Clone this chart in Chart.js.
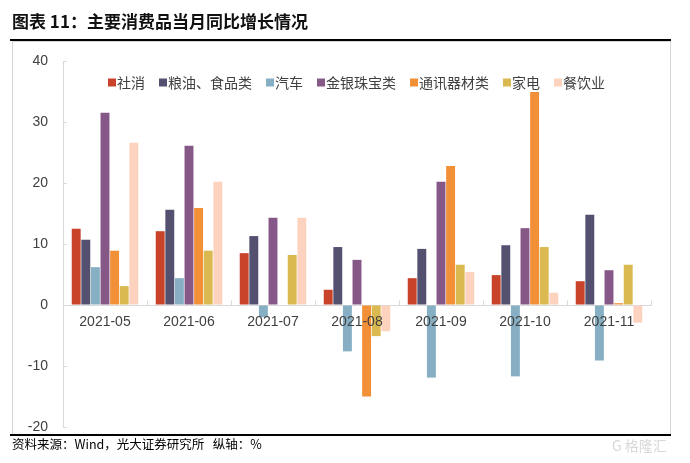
<!DOCTYPE html>
<html>
<head>
<meta charset="utf-8">
<script src="https://cdn.jsdelivr.net/npm/chart.js@4/dist/chart.umd.min.js"></script>
<style>
  html, body { margin: 0; padding: 0; background: #fff; }
  #wrap { position: relative; width: 690px; height: 463px; overflow: hidden; }
  #title { position: absolute; left: 12px; top: 10px; line-height: 22px; font-family: "Noto Sans CJK SC", sans-serif; font-weight: bold; font-size: 17px; color: #111; white-space: pre; }
  #topline { position: absolute; left: 10px; top: 39px; width: 661px; height: 2px; background: #000; }
  #frame { position: absolute; left: 12px; top: 41px; width: 657px; height: 393px; border: 1px solid #d6d6d6; border-bottom: none; }
  #bottomline { position: absolute; left: 10px; top: 434px; width: 661px; height: 1.5px; background: #000; }
  #source { position: absolute; left: 12px; top: 435px; line-height: 17px; font-family: "Noto Sans CJK SC", sans-serif; font-size: 12.5px; color: #000; white-space: pre; }
  #wm { position: absolute; left: 612px; top: 436px; line-height: 18px; font-family: "Noto Sans CJK SC", sans-serif; font-size: 14px; color: #d8d8d8; white-space: pre; }
  #chartbox { position: absolute; left: 0; top: 0; width: 690px; height: 463px; }
</style>
</head>
<body>
<div id="wrap">
  <div id="frame"></div>
  <div id="chartbox"><canvas id="c" width="690" height="463"></canvas></div>
  <div id="title">图表 11：主要消费品当月同比增长情况</div>
  <div id="topline"></div>
  <div id="bottomline"></div>
  <div id="source">资料来源：Wind，光大证券研究所   纵轴：%</div>
  <div id="wm">G 格隆汇</div>
</div>
<script>
const categories = ['2021-05', '2021-06', '2021-07', '2021-08', '2021-09', '2021-10', '2021-11'];
const seriesNames = ['社消', '粮油、食品类', '汽车', '金银珠宝类', '通讯器材类', '家电', '餐饮业'];
const sheXiao  = [12.5, 12.1, 8.5, 2.5, 4.4, 4.9, 3.9];
const liangYou = [10.7, 15.6, 11.3, 9.5, 9.2, 9.8, 14.8];
const qiChe    = [6.2, 4.4, -2.0, -7.6, -11.9, -11.7, -9.1];
const jinYin   = [31.5, 26.1, 14.3, 7.4, 20.2, 12.6, 5.7];
const tongXun  = [8.9, 15.9, null, -15.0, 22.8, 34.9, 0.3];
const jiaDian  = [3.1, 8.9, 8.2, -5.1, 6.6, 9.5, 6.6];
const canYin   = [26.6, 20.2, 14.3, -4.3, 5.4, 2.0, -2.9];
const yTicks = [-20, -10, 0, 10, 20, 30, 40];

const colors = ['#C8432A', '#545070', '#86AFC3', '#855888', '#F29038', '#D9B950', '#FDD3C0'];
const values = [sheXiao, liangYou, qiChe, jinYin, tongXun, jiaDian, canYin];

const AXIS_COLOR = '#d9d9d9';
const TEXT_COLOR = '#404040';

const innerTicks = {
  id: 'innerTicks',
  afterDraw(chart) {
    const ctx = chart.ctx;
    const x = chart.scales.x, y = chart.scales.y;
    ctx.save();
    ctx.strokeStyle = AXIS_COLOR;
    ctx.lineWidth = 1;
    y.ticks.forEach(t => {
      const py = Math.round(y.getPixelForValue(t.value)) + 0.5;
      ctx.beginPath();
      ctx.moveTo(y.right, py);
      ctx.lineTo(y.right + 4, py);
      ctx.stroke();
    });
    const zy = Math.round(y.getPixelForValue(0)) + 0.5;
    const n = categories.length;
    const w = (x.right - x.left) / n;
    for (let k = 0; k <= n; k++) {
      const px = Math.round(x.left + k * w) + 0.5;
      ctx.beginPath();
      ctx.moveTo(px, zy);
      ctx.lineTo(px, zy - 5);
      ctx.stroke();
    }
    ctx.restore();
  }
};

const customLegend = {
  id: 'customLegend',
  afterDraw(chart) {
    const ctx = chart.ctx;
    ctx.save();
    ctx.font = '14px "Noto Sans CJK SC", sans-serif';
    ctx.textBaseline = 'middle';
    ctx.textAlign = 'left';
    let cx = 108;
    const cy = 82.5;
    chart.data.datasets.forEach(ds => {
      ctx.fillStyle = ds.backgroundColor;
      ctx.fillRect(cx, cy - 4, 8, 8);
      ctx.fillStyle = TEXT_COLOR;
      ctx.fillText(ds.label, cx + 9, cy);
      cx += 9 + ctx.measureText(ds.label).width + 14;
    });
    ctx.restore();
  }
};

new Chart(document.getElementById('c'), {
  type: 'bar',
  data: {
    labels: categories,
    datasets: seriesNames.map((name, i) => ({
      label: name,
      data: values[i],
      backgroundColor: colors[i],
      borderWidth: 0,
      categoryPercentage: 0.8,
      barPercentage: 0.93
    }))
  },
  options: {
    responsive: false,
    animation: false,
    events: [],
    layout: { padding: { left: 12, top: 61, right: 39, bottom: 36 } },
    plugins: { legend: { display: false }, tooltip: { enabled: false } },
    scales: {
      x: {
        type: 'category',
        position: { y: 0 },
        grid: { display: true, drawOnChartArea: false, drawTicks: false, offset: true },
        border: { display: true, color: AXIS_COLOR, width: 1 },
        ticks: { z: 1, color: TEXT_COLOR, font: { family: '"Liberation Sans", Arial, sans-serif', size: 14 }, padding: 9, maxRotation: 0, autoSkip: false }
      },
      y: {
        min: -20, max: 40,
        afterFit: s => { s.width = 51; },
        afterBuildTicks: s => { s.ticks = yTicks.map(v => ({ value: v })); },
        grid: { display: true, drawOnChartArea: false, drawTicks: false },
        border: { display: true, color: AXIS_COLOR, width: 1 },
        ticks: { color: TEXT_COLOR, font: { family: '"Liberation Sans", Arial, sans-serif', size: 14 }, padding: 15 }
      }
    }
  },
  plugins: [innerTicks, customLegend]
});
</script>
</body>
</html>
